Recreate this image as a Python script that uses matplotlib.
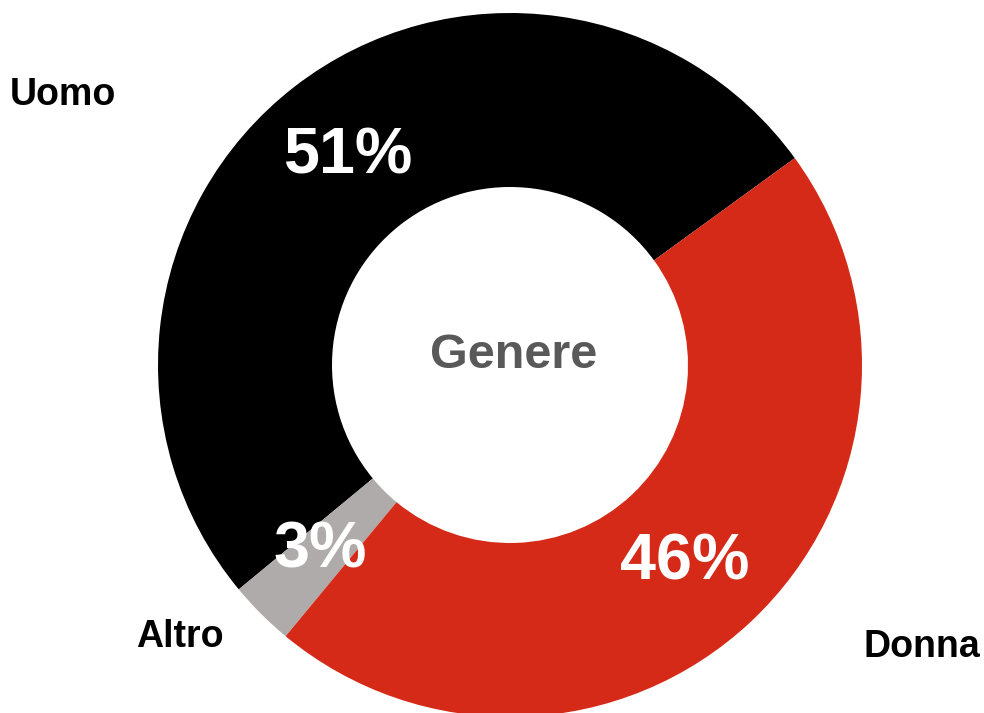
import matplotlib
matplotlib.use("Agg")
import matplotlib.pyplot as plt

# data
labels = ["Uomo", "Altro", "Donna"]
values = [51, 3, 46]
colors = ["#000000", "#AFABAB", "#D52A17"]

plt.rcParams["font.family"] = ["Liberation Sans", "DejaVu Sans"]

fig = plt.figure(figsize=(9.84, 7.13), dpi=100)
ax = fig.add_axes([0, 0, 1, 1])

wedges, texts, autotexts = ax.pie(
    values, colors=colors, startangle=36, counterclock=True,
    center=(510, 348), radius=352, frame=True,
    autopct="%.0f%%", pctdistance=0.753,
    wedgeprops=dict(width=174, linewidth=0),
    textprops=dict(color="white", fontsize=46.5, fontweight="bold"),
)
ax.set_xlim(0, 984)
ax.set_ylim(0, 713)
ax.axis("off")

# nudge percentage labels to where the original has them
pct_pos = [(348, 556), (320, 163), (685, 151)]
for t, p in zip(autotexts, pct_pos):
    t.set_position(p)

# outer labels (placed by hand like in the original)
label_pos = [(63, 618), (180, 76), (922, 66)]
for name, (x, y) in zip(labels, label_pos):
    ax.text(x, y, name, ha="center", va="center", fontsize=27,
            fontweight="bold", color="black")

ax.text(514, 345, "Genere", ha="center", va="baseline", fontsize=35,
        fontweight="bold", color="#595959")

fig.savefig("out.png", dpi=100)
